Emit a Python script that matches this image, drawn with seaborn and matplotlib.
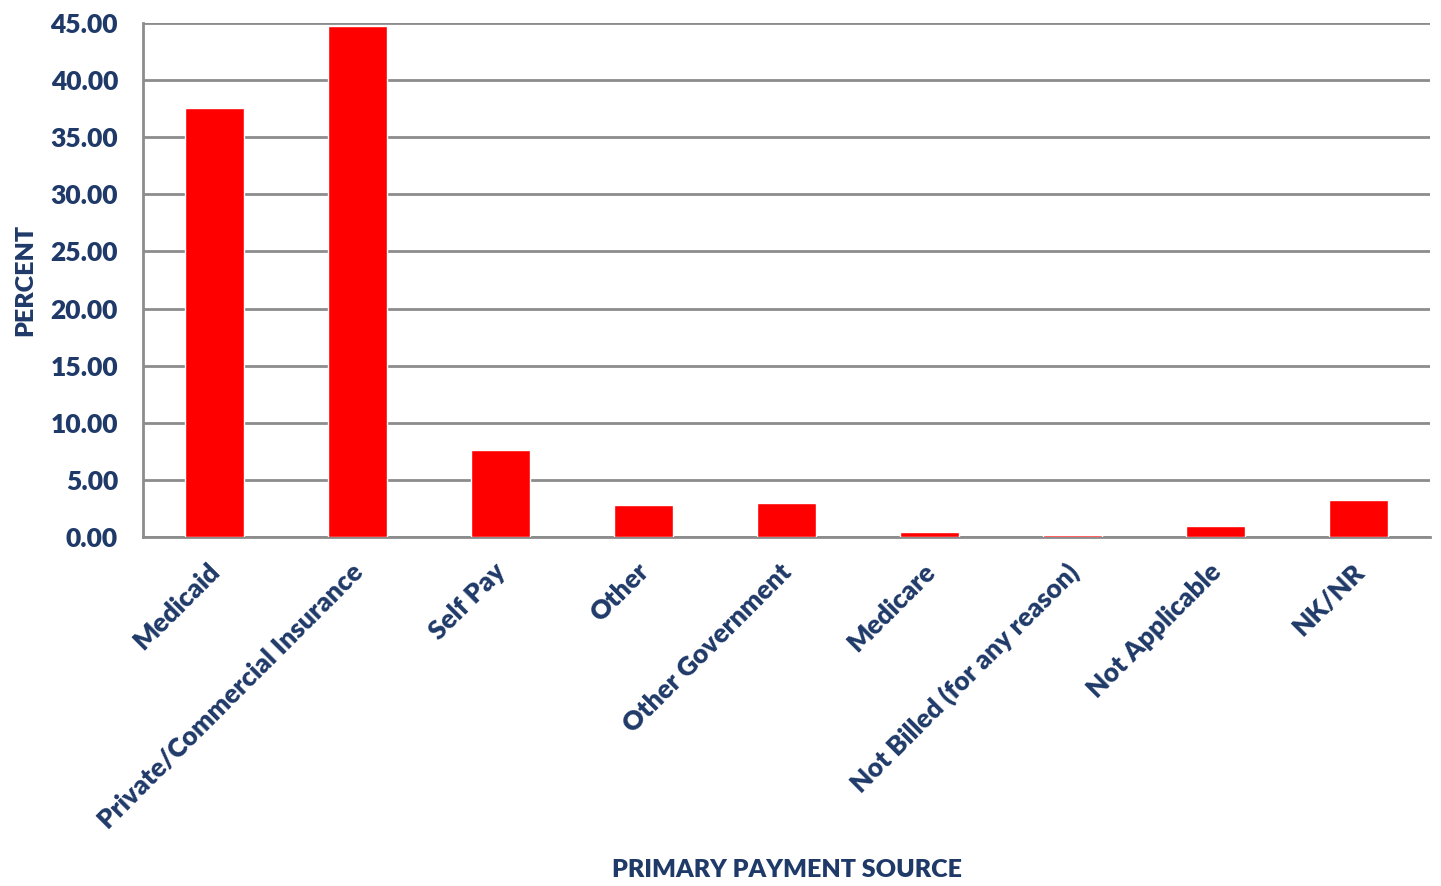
import matplotlib
matplotlib.use("Agg")
import matplotlib.pyplot as plt
import matplotlib.transforms as mtransforms
import numpy as np
import pandas as pd
import seaborn as sns

sources = [
    "Medicaid",
    "Private/Commercial Insurance",
    "Self Pay",
    "Other",
    "Other Government",
    "Medicare",
    "Not Billed (for any reason)",
    "Not Applicable",
    "NK/NR",
]
percent = [37.6, 44.7, 7.6, 2.8, 3.0, 0.45, 0.2, 1.0, 3.2]
y_ticks = [0, 5, 10, 15, 20, 25, 30, 35, 40, 45]

NAVY = "#1F3A68"
GRID = "#8C8C8C"
WEIGHT = "heavy"

sns.set_style("white")
plt.rcParams["font.family"] = ["Lato", "DejaVu Sans"]

df = pd.DataFrame({"source": sources, "percent": percent})

fig = plt.figure(figsize=(14.41, 8.86), dpi=100)
ax = fig.add_axes([143 / 1441, 1 - 537 / 886, (1430 - 143) / 1441, (537 - 23) / 886])

sns.barplot(data=df, x="source", y="percent", color="#FF0000", width=0.41,
            saturation=1, ax=ax, zorder=3)

ax.set_ylim(0, 45)
ax.set_xlim(-0.5, len(sources) - 0.5)
ax.set_yticks(y_ticks)
ax.set_yticklabels([f"{v:.2f}" for v in y_ticks], color=NAVY, fontsize=19, fontweight=WEIGHT)
ax.yaxis.grid(True, color=GRID, linewidth=2, zorder=0)
ax.set_axisbelow(True)

ax.set_xticks(np.arange(len(sources)))
ax.set_xticklabels(sources, rotation=45, ha="right", rotation_mode="anchor",
                   color=NAVY, fontsize=19, fontweight=WEIGHT)
ax.tick_params(axis="x", which="major", length=0, pad=16)
shift = mtransforms.ScaledTranslation(-7 / 100, 0, fig.dpi_scale_trans)
for lbl in ax.get_xticklabels():
    lbl.set_transform(lbl.get_transform() + shift)
ax.set_xticks(np.arange(len(sources) + 1) - 0.5, minor=True)
ax.tick_params(axis="x", which="minor", length=9, width=2, color=GRID)
ax.tick_params(axis="y", length=8, width=2, color=GRID, pad=10)

for side in ["top", "right"]:
    ax.spines[side].set_visible(False)
for side in ["left", "bottom"]:
    ax.spines[side].set_color(GRID)
    ax.spines[side].set_linewidth(2)

ax.set_xlabel("")
ax.set_ylabel("")
fig.text(787 / 1441, 1 - 870 / 886, "PRIMARY PAYMENT SOURCE", ha="center", va="center",
         color=NAVY, fontsize=18, fontweight=WEIGHT)
fig.text(25 / 1441, 1 - 280 / 886, "PERCENT", ha="center", va="center", rotation=90,
         color=NAVY, fontsize=18, fontweight=WEIGHT)

fig.savefig("out.png", dpi=100)
